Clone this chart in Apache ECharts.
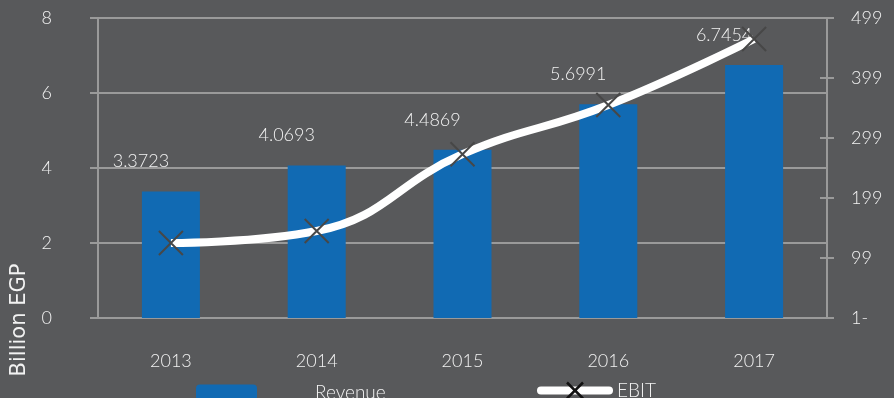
<!DOCTYPE html>
<html lang="en">
<head>
<meta charset="UTF-8">
<title>Revenue &amp; EBIT</title>
<style>
    html, body { margin: 0; padding: 0; background: #58595b; }
    #main { width: 894px; height: 398px; }
</style>
</head>
<body>
<div id="main"></div>
<script src="https://cdn.jsdelivr.net/npm/echarts@6/dist/echarts.min.js"></script>
<script type="text/javascript">
    // data
    var years = ['2013', '2014', '2015', '2016', '2017'];
    var revenue = [3.3723, 4.0693, 4.4869, 5.6991, 6.7454];   // Billion EGP, left axis
    var ebit = [124, 144, 272, 354, 464];                        // right axis
    var rightTickLabels = ['1-', '99', '199', '299', '399', '499'];

    var grey = '#9a9a9a';
    var txt = '#f2f2f2';
    var font = 'Lato';
    var fs = 18;

    var myChart = echarts.init(document.getElementById('main'));

    myChart.setOption({
        backgroundColor: '#58595b',
        animation: false,
        textStyle: { fontFamily: font, fontWeight: 300, color: txt },
        grid: { left: 98, right: 67, top: 18, bottom: 80 },
        legend: [
            {
                data: ['Revenue'],
                left: 196, top: 383, padding: 0,
                itemWidth: 61, itemHeight: 16,
                textStyle: { color: txt, fontFamily: font, fontWeight: 300, fontSize: fs + 1, padding: [0, 0, 0, 53] }
            },
            {
                data: ['EBIT'],
                left: 537, top: 381, padding: 0,
                itemWidth: 68, itemHeight: 20,
                lineStyle: { width: 8, cap: 'round', color: '#ffffff' },
                itemStyle: { borderColor: '#111111', borderWidth: 2.5 },
                textStyle: { color: txt, fontFamily: font, fontWeight: 300, fontSize: fs + 1, padding: [0, 0, 0, 3] }
            }
        ],
        graphic: [{
            type: 'text',
            x: 20, y: 320,
            rotation: Math.PI / 2,
            style: {
                text: 'Billion EGP',
                fill: txt,
                font: '400 21px "DejaVu Sans"',
                textAlign: 'center',
                textVerticalAlign: 'middle'
            }
        }],
        xAxis: [
            {
                type: 'category',
                data: years,
                axisLine: { lineStyle: { color: grey, width: 2 } },
                axisTick: { length: 8, lineStyle: { color: grey, width: 2 } },
                axisLabel: { color: txt, fontFamily: font, fontWeight: 300, fontSize: fs, margin: 34 }
            },
            {
                type: 'category',
                data: years,
                position: 'bottom',
                axisLine: { show: false },
                axisTick: { inside: true, length: 8, lineStyle: { color: grey, width: 2 } },
                axisLabel: { show: false }
            }
        ],
        yAxis: [
            {
                type: 'value',
                min: 0, max: 8, interval: 2,
                axisLine: { show: true, lineStyle: { color: grey, width: 2 } },
                axisTick: { show: true, length: 8, lineStyle: { color: grey, width: 2 } },
                splitLine: { lineStyle: { color: grey, width: 2 } },
                axisLabel: { color: txt, fontFamily: font, fontWeight: 300, fontSize: fs, margin: 46 }
            },
            {
                type: 'value',
                position: 'right',
                min: -1, max: 499, interval: 100,
                axisLine: { show: true, lineStyle: { color: grey, width: 2 } },
                axisTick: { show: true, length: 7, lineStyle: { color: grey, width: 2 } },
                splitLine: { show: false },
                axisLabel: {
                    color: txt, fontFamily: font, fontWeight: 300, fontSize: fs, margin: 24,
                    formatter: function (v) { return rightTickLabels[Math.round((v + 1) / 100)]; }
                }
            },
            {
                type: 'value',
                position: 'right',
                min: -1, max: 499, interval: 100,
                axisLine: { show: false },
                axisTick: { show: true, inside: true, length: 7, lineStyle: { color: grey, width: 2 } },
                splitLine: { show: false },
                axisLabel: { show: false }
            }
        ],
        series: [
            {
                name: 'Revenue',
                type: 'bar',
                xAxisIndex: 0,
                yAxisIndex: 0,
                barWidth: 58,
                itemStyle: { color: '#116ab3' },
                label: {
                    show: true,
                    position: 'top',
                    distance: 0,
                    offset: [-30, -21],
                    color: txt,
                    fontFamily: font,
                    fontWeight: 300,
                    fontSize: fs
                },
                data: revenue
            },
            {
                name: 'EBIT',
                type: 'line',
                xAxisIndex: 0,
                yAxisIndex: 1,
                smooth: 0.45,
                symbol: 'path://M0,0L10,10M10,0L0,10',
                symbolSize: 24,
                lineStyle: { color: '#ffffff', width: 8 },
                itemStyle: { color: 'rgba(0,0,0,0)', borderColor: '#474747', borderWidth: 2 },
                data: ebit
            }
        ]
    });
</script>
</body>
</html>
